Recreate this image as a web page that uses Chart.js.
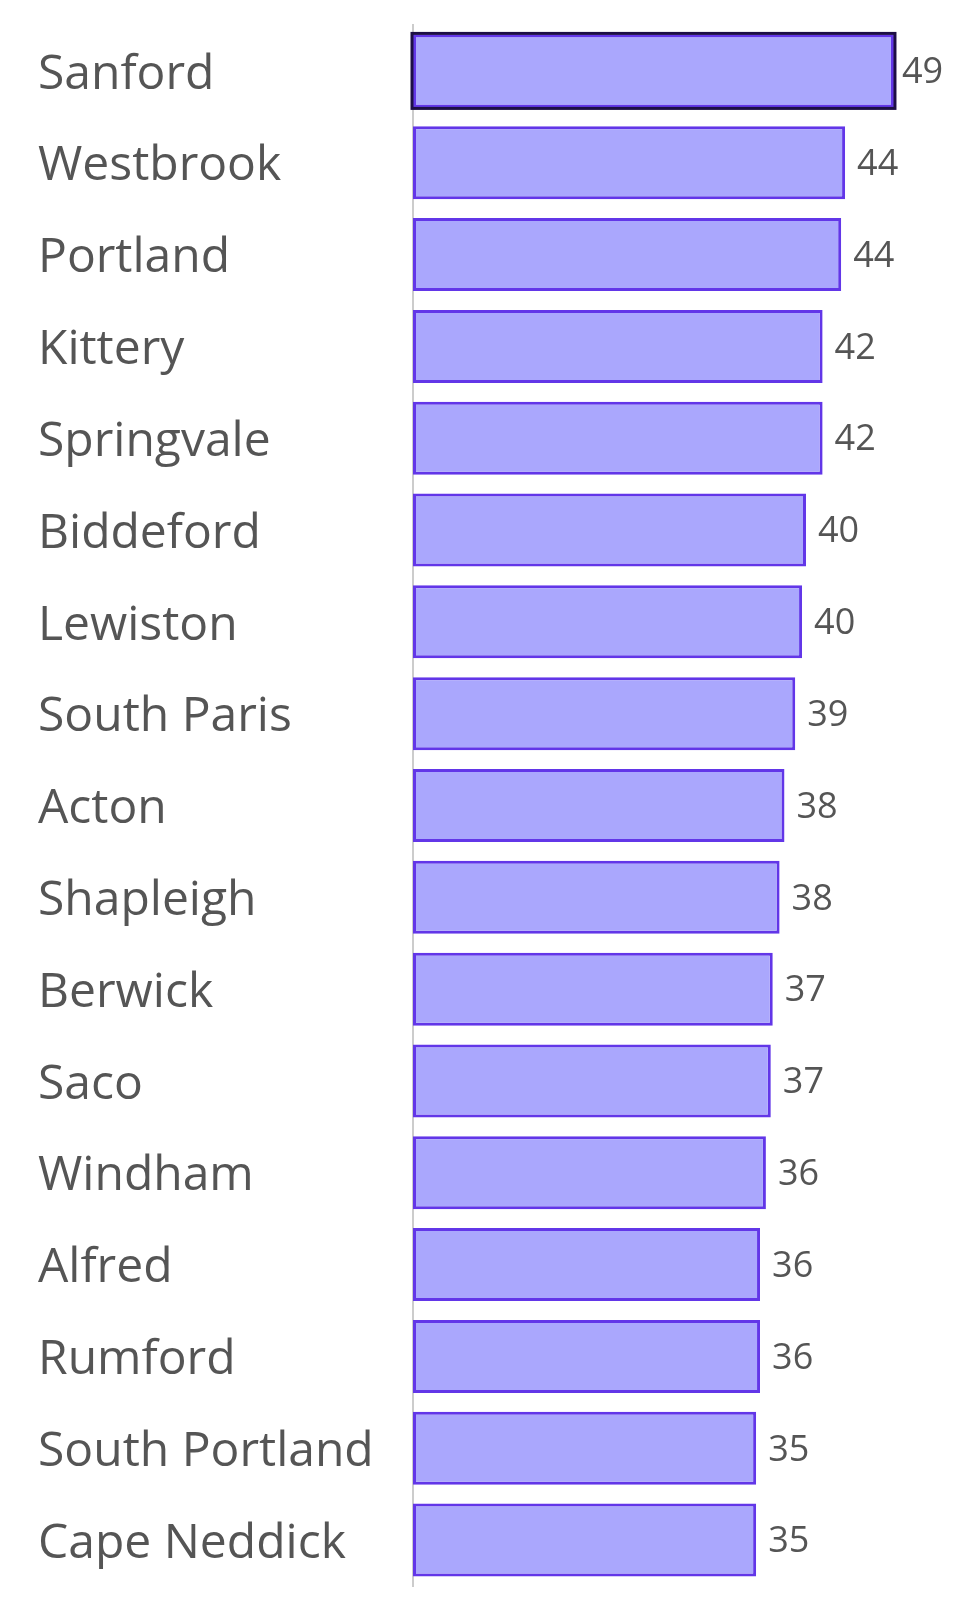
<!DOCTYPE html>
<html>
<head>
<meta charset="utf-8">
<script src="https://cdn.jsdelivr.net/npm/chart.js@4"></script>
<style>
  body { margin: 0; background: #fff; }
  canvas { display: block; }
</style>
</head>
<body>
<canvas id="townChart" width="980" height="1613"></canvas>
<script>
const towns = ['Sanford', 'Westbrook', 'Portland', 'Kittery', 'Springvale', 'Biddeford', 'Lewiston',
  'South Paris', 'Acton', 'Shapleigh', 'Berwick', 'Saco', 'Windham', 'Alfred', 'Rumford',
  'South Portland', 'Cape Neddick'];
const counts = [49.2, 44.2, 43.8, 41.9, 41.9, 40.2, 39.8, 39.1, 38.0, 37.5, 36.8, 36.6, 36.1, 35.5, 35.5, 35.1, 35.1];
const selectedIndex = 0;

const textColor = '#555555';
const fillColor = '#aaa7fd';
const edgeColor = '#6236e8';

// value labels at the end of each bar + outline on the selected bar
const valueLabels = {
  id: 'valueLabels',
  afterDatasetsDraw(chart) {
    const ctx = chart.ctx;
    const meta = chart.getDatasetMeta(0);
    ctx.save();

    const sel = meta.data[selectedIndex];
    ctx.strokeStyle = '#1d0e45';
    ctx.lineWidth = 3;
    ctx.strokeRect(sel.base - 1, sel.y - sel.height / 2 - 1, sel.x - sel.base + 2, sel.height + 2);

    ctx.font = '36px "Open Sans"';
    ctx.fillStyle = textColor;
    ctx.textAlign = 'left';
    ctx.textBaseline = 'middle';
    meta.data.forEach((bar, i) => {
      const gap = i === selectedIndex ? 8 : 12;
      ctx.fillText(String(Math.round(counts[i])), bar.x + gap, bar.y + 2);
    });
    ctx.restore();
  }
};

new Chart(document.getElementById('townChart'), {
  type: 'bar',
  data: {
    labels: towns,
    datasets: [{
      data: counts,
      backgroundColor: fillColor,
      borderColor: edgeColor,
      borderWidth: 3,
      borderSkipped: false,
      barPercentage: 0.795,
      categoryPercentage: 1
    }]
  },
  options: {
    indexAxis: 'y',
    responsive: false,
    animation: false,
    layout: { padding: { left: 38, top: 25, bottom: 27, right: 0 } },
    plugins: { legend: { display: false }, tooltip: { enabled: false } },
    scales: {
      x: { display: false, min: 0, max: 58 },
      y: {
        grid: { display: false, drawTicks: false },
        border: { display: true, color: '#cccccc', width: 2 },
        ticks: {
          crossAlign: 'far',
          labelOffset: 4,
          color: textColor,
          font: { family: '"Open Sans"', size: 48 }
        },
        afterFit(scale) {
          scale.width = 413 - 38;
          scale.paddingTop = 0;
          scale.paddingBottom = 0;
        }
      }
    }
  },
  plugins: [valueLabels]
});
</script>
</body>
</html>
